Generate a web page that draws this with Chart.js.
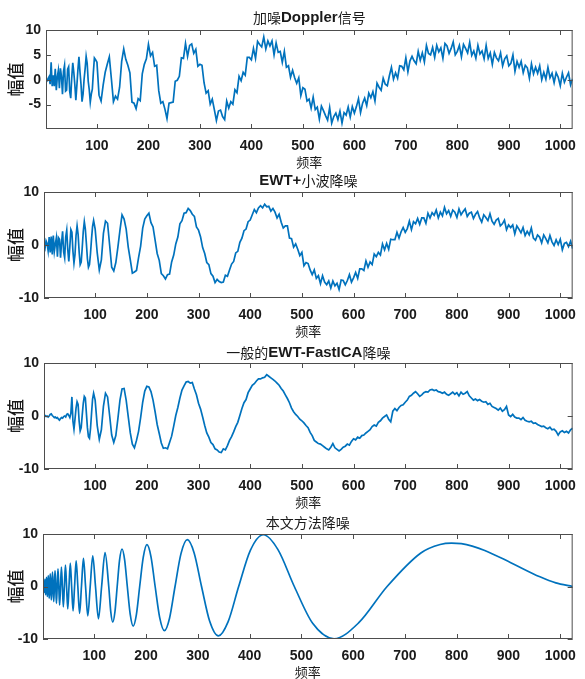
<!DOCTYPE html>
<html>
<head>
<meta charset="utf-8">
<script src="https://cdn.jsdelivr.net/npm/chart.js@4.4.1/dist/chart.umd.min.js"></script>
<style>
  html, body { margin: 0; padding: 0; background: #fff; }
  body { width: 585px; height: 679px; position: relative; overflow: hidden; }
  .panel { position: absolute; left: 0; width: 585px; }
  .panel canvas { display: block; }
</style>
</head>
<body>
<div class="panel" style="top:0px"><canvas id="c1" width="585" height="169"></canvas></div>
<div class="panel" style="top:162px"><canvas id="c2" width="585" height="176"></canvas></div>
<div class="panel" style="top:333px"><canvas id="c3" width="585" height="176"></canvas></div>
<div class="panel" style="top:504px"><canvas id="c4" width="585" height="175"></canvas></div>
<script>
// sample numbers (x) of the read-off values
const seq = (a, b, step) => { const out = []; for (let v = a; v <= b; v += step) out.push(v); return out; };
const HEAD_X = seq(1, 97, 2);     // 49 samples
const TAIL_X = seq(100, 1024, 4); // 232 samples

const X_TICKS = [100, 200, 300, 400, 500, 600, 700, 800, 900, 1000];
const Y_TICKS_FINE = [-5, 0, 5, 10];
const Y_TICKS = [-10, 0, 10];

const TITLES = [
  [['加噪', false], ['Doppler', true], ['信号', false]],
  [['EWT+', true], ['小波降噪', false]],
  [['一般的', false], ['EWT-FastICA', true], ['降噪', false]],
  [['本文方法降噪', false]]
];

// 加噪Doppler信号
const NOISY_HEAD = [0.0,-0.2,0.2,0.6,-0.9,3.5,-1.3,0.9,-1.3,2.2,
  -2.1,0.6,1.9,-1.7,2.3,0.7,-2.9,1.7,2.9,-2.3,
  -2.1,2.1,2.6,-2.3,-3.7,0.4,3.4,1.5,-1.0,-4.1,
  -1.1,2.0,4.6,1.6,-0.9,-4.4,-2.9,0.1,2.2,4.7,
  3.3,-0.3,-2.0,-4.5,-2.9,-1.9,1.5,4.4,4.1];
const NOISY_TAIL = [3.5,-3.1,-4.3,-1.1,1.5,3.1,4.6,0.2,-4.4,-3.3,
  -3.9,-1.5,3.7,6.2,4.1,2.9,1.4,-4.5,-4.7,-5.8,
  -3.8,-4.2,1.2,3.1,4.2,7.1,4.8,5.5,2.7,2.9,
  -2.2,-4.7,-4.4,-5.9,-7.8,-4.7,-4.6,-4.5,-0.3,-0.1,
  0.7,4.4,4.3,7.3,4.7,6.9,7.2,5.3,6.1,2.7,
  3.1,2.9,-0.6,-2.7,-2.2,-4.9,-3.9,-6.0,-8.2,-6.3,
  -6.1,-7.4,-8.0,-4.3,-5.7,-4.4,-4.9,-2.0,-2.6,0.7,
  -0.2,1.5,0.9,4.5,4.5,4.0,6.3,4.3,7.7,7.1,
  6.6,8.6,6.2,7.8,6.8,7.8,5.0,7.4,5.5,5.7,
  3.5,5.7,2.5,2.8,0.5,1.9,0.4,-0.7,0.4,-3.2,
  -1.6,-1.9,-4.3,-3.9,-5.7,-3.5,-6.0,-5.5,-7.9,-5.3,
  -6.2,-7.2,-8.1,-5.6,-8.7,-7.4,-6.7,-8.0,-6.3,-8.7,
  -6.6,-7.1,-5.5,-7.5,-5.4,-6.7,-5.4,-3.8,-6.6,-4.7,
  -3.7,-5.2,-2.7,-3.6,-2.4,-4.3,-0.7,-1.5,-2.1,0.3,
  -0.9,-1.2,0.8,2.5,0.1,1.4,0.3,2.8,2.7,2.0,
  4.4,1.6,3.8,4.7,3.8,3.2,5.7,3.9,5.4,3.6,
  6.9,5.3,5.0,6.5,4.5,6.9,5.6,6.4,4.3,7.3,
  6.8,5.3,6.3,7.6,5.0,5.7,6.9,4.6,7.1,6.3,
  5.4,7.5,4.9,5.8,4.3,6.9,5.2,5.8,4.2,6.9,
  4.3,5.4,3.1,5.5,4.4,3.8,5.4,2.8,4.2,4.8,
  2.8,3.3,5.0,1.7,3.7,2.5,3.7,1.4,2.9,2.4,
  0.3,3.2,1.2,2.5,1.3,2.8,0.0,1.5,0.1,2.5,
  0.4,1.3,-0.6,1.4,0.5,-1.2,1.3,-0.5,0.5,1.4,
  -1.0,0.2];

// EWT+小波降噪
const EWT_HEAD = [0.0,-0.6,0.8,0.3,-1.1,1.5,-1.4,1.6,-1.8,1.8,
  -1.2,0.2,1.4,-2.2,1.4,1.1,-2.4,0.5,2.6,-1.3,
  -2.4,1.5,2.8,-0.9,-3.1,-0.3,2.9,2.4,-1.2,-3.4,
  -1.8,1.8,3.6,2.0,-1.3,-3.7,-3.2,-0.5,2.6,4.4,
  3.0,0.3,-2.6,-4.2,-3.7,-1.6,1.2,3.5,4.6];
const EWT_TAIL = [3.0,-1.5,-4.7,-2.8,2.2,4.5,4.1,0.0,-4.2,-4.9,
  -3.3,-0.4,2.8,5.7,4.9,3.0,-0.4,-2.8,-5.3,-5.1,
  -4.8,-2.4,-0.2,3.2,4.9,5.5,6.0,4.2,3.4,0.9,
  -1.6,-2.9,-5.4,-5.8,-6.4,-5.6,-5.5,-3.2,-1.9,0.2,
  1.5,4.0,4.6,6.0,6.1,6.9,6.5,5.8,5.4,3.4,
  2.8,1.5,-0.5,-1.6,-3.3,-3.7,-5.4,-5.9,-7.1,-6.5,
  -6.9,-7.1,-7.0,-5.7,-5.9,-4.7,-3.6,-3.1,-1.5,-1.2,
  0.5,1.3,2.7,3.0,4.4,4.7,5.7,6.7,6.1,7.0,
  7.4,7.0,7.7,7.2,7.3,6.4,6.9,6.2,5.1,5.8,
  4.3,3.2,3.6,3.6,1.3,1.2,-0.4,0.2,-0.8,-2.0,
  -1.4,-3.9,-3.3,-3.5,-4.7,-5.6,-4.7,-6.3,-5.8,-7.3,
  -5.8,-7.0,-7.5,-6.8,-8.1,-6.8,-7.7,-7.2,-8.4,-6.6,
  -6.7,-7.5,-6.7,-5.6,-7.0,-6.2,-5.2,-6.3,-4.5,-4.5,
  -4.8,-3.0,-4.2,-3.2,-3.7,-1.7,-2.2,-1.4,-1.9,0.2,
  -0.9,0.3,-0.8,1.1,1.0,1.0,2.4,1.3,2.5,3.3,
  2.4,3.1,4.5,2.9,4.4,4.0,5.0,3.9,5.1,5.1,
  4.1,6.0,5.1,6.1,5.6,6.6,5.1,6.2,5.5,7.1,
  5.9,6.5,5.4,6.6,6.2,5.2,6.8,5.7,6.3,6.8,
  5.4,6.0,6.2,5.0,5.8,6.3,5.1,4.3,5.7,5.2,
  4.6,5.9,4.5,3.9,4.7,5.0,3.6,4.0,4.7,2.9,
  3.8,3.3,3.8,2.1,3.6,3.0,2.3,3.3,1.8,2.6,
  1.9,3.2,1.3,0.9,1.9,1.5,0.4,1.9,1.2,0.4,
  1.8,0.6,-0.1,1.0,0.1,1.1,-0.9,0.3,0.5,-0.3,
  0.7,-0.7];

// 一般的EWT-FastICA降噪
const ICA_HEAD = [0.0,0.1,-0.1,0.0,-0.2,0.0,0.3,0.4,0.1,-0.1,
  -0.3,-0.2,-0.4,-0.3,-0.6,-0.8,-0.5,-0.3,-0.4,-0.1,
  0.0,-0.2,0.3,0.4,0.1,-0.3,0.5,3.6,-1.0,-2.5,
  -0.6,1.5,2.7,2.2,-1.0,-2.8,-2.2,0.2,2.4,3.7,
  3.4,0.6,-2.2,-3.9,-4.2,-2.4,0.5,3.2,4.3];
const ICA_TAIL = [3.0,-1.8,-4.4,-2.6,1.8,4.3,3.6,0.1,-3.6,-5.0,
  -3.7,-0.5,3.0,5.1,5.2,3.0,-0.1,-3.2,-5.3,-6.0,
  -4.6,-2.9,-0.3,2.6,4.7,5.6,5.5,4.6,3.0,0.8,
  -1.6,-3.3,-5.1,-6.1,-6.0,-6.2,-5.0,-3.8,-1.9,0.1,
  1.6,3.4,4.9,5.7,6.4,6.5,6.2,6.3,5.1,4.0,
  2.4,1.3,-0.2,-1.8,-3.2,-4.0,-5.0,-5.4,-6.2,-6.4,
  -6.8,-6.9,-6.2,-6.4,-5.6,-4.6,-3.9,-3.0,-2.0,-1.2,
  0.1,1.4,2.5,3.1,4.4,5.1,5.8,6.1,6.6,7.0,
  7.0,7.2,7.3,7.8,7.5,7.2,6.9,6.6,
  6.2,5.8,5.2,4.7,4.0,3.3,2.5,1.5,0.8,0.3,
  -0.1,-0.6,-0.9,-1.3,-1.8,-2.2,-3.1,-3.7,-4.6,-4.9,
  -5.2,-5.3,-5.6,-5.9,-6.2,-6.4,-5.9,-5.2,-6.0,-6.3,
  -6.6,-6.3,-5.9,-5.7,-5.3,-5.5,-4.8,-4.3,-4.5,-4.0,
  -4.2,-3.7,-3.6,-3.2,-2.9,-2.6,-2.0,-1.7,-1.9,-1.2,
  -0.9,-0.4,-0.1,0.2,-0.6,-1.1,0.9,1.4,1.0,1.6,
  2.0,2.1,2.6,3.0,3.7,3.9,4.3,4.6,4.2,3.7,
  4.0,4.4,4.6,4.5,4.9,5.0,4.8,4.9,4.6,4.5,
  4.3,4.5,4.1,3.9,4.2,4.5,4.1,4.4,3.8,4.5,
  4.1,4.3,4.6,3.8,3.4,3.0,3.2,2.9,3.1,2.8,
  2.6,2.7,2.2,2.4,1.8,1.6,1.4,1.1,1.5,0.9,
  1.2,1.8,0.2,-0.1,0.3,-0.2,-0.4,-0.4,-0.7,-0.3,
  -0.8,-1.0,-1.1,-1.0,-1.4,-1.3,-1.6,-1.8,-2.0,-1.9,
  -2.2,-2.4,-2.1,-2.6,-2.5,-2.9,-3.6,-3.0,-2.8,-3.1,
  -2.9,-3.2,-2.6,-2.3];

// 本文方法降噪: extrema and zero crossings
const CLEAN_X = [1,1.25,1.9,2.56,3.24,3.94,4.66,5.39,6.14,6.92,
  7.71,8.53,9.37,10.24,11.13,12.05,12.99,13.96,14.97,16,
  17.07,18.17,19.3,20.48,21.7,22.95,24.25,25.6,26.99,28.44,
  29.95,31.51,33.13,34.82,36.57,38.4,40.31,42.29,44.37,46.55,
  48.82,51.2,53.7,56.32,59.08,61.98,65.04,68.27,71.68,75.29,
  79.13,83.2,87.53,92.16,97.1,102.4,108.09,114.22,120.83,128,
  131.8,135.79,139.9,144.29,148.8,153.6,158.6,163.84,169.4,175.16,
  181.3,187.73,194.6,201.79,209.5,217.6,226.3,235.52,245.4,256,
  267.4,279.63,292.9,307.2,322.8,339.78,358.4,378.88,401.5,426.67,
  454.8,486.4,522.2,563.2,610.5,665.6,730.8,768,790,809,
  830,854.2,904.5,960.8,991.4,1024];
const CLEAN_Y = [-0.37,0,0.86,0,-1.12,0,1.35,0,-1.54,0,
  1.73,0,-1.9,0,2.07,0,-2.24,0,2.4,0,
  -2.56,0,2.72,0,-2.88,0,3.04,0,-3.21,0,
  3.37,0,-3.54,0,3.71,0,-3.89,0,4.07,0,
  -4.26,0,4.46,0,-4.66,0,4.88,0,-5.1,0,
  5.34,0,-5.59,0,5.86,0,-6.15,0,6.45,0,
  -4.74,-6.78,-4.86,0,4.99,7.14,5.12,0,-5.25,-7.53,
  -5.4,0,5.55,7.96,5.7,0,-5.87,-8.42,-6.04,0,
  6.21,8.91,6.39,0,-6.57,-9.42,-6.75,0,6.9,9.86,
  7.03,0,-7.07,-9.95,-6.94,0,6.39,8.0,8.27,8.15,
  7.7,6.87,4.54,1.84,0.68,0];

const BLUE = '#0072BD';
const TEXT = '#1a1a1a';
const LATIN = "'Liberation Sans', Arial, sans-serif";
const CJK = "'Noto Sans CJK SC', 'Noto Sans', sans-serif";

const toPoints = (xs, ys) => xs.map((x, i) => ({ x: x, y: ys[i] }));

// box, inward ticks on all four sides, and the mixed-font title
const framePlugin = {
  id: 'frame',
  afterDraw(chart) {
    const { ctx, chartArea: a, scales: { x, y } } = chart;
    const o = chart.options.plugins.frame;
    ctx.save();
    ctx.strokeStyle = '#4d4d4d';
    ctx.lineWidth = 1;
    ctx.strokeRect(a.left + 0.5, a.top + 0.5, a.right - a.left - 1, a.bottom - a.top - 1);
    ctx.beginPath();
    x.ticks.forEach(t => {
      const px = Math.round(x.getPixelForValue(t.value)) + 0.5;
      ctx.moveTo(px, a.bottom); ctx.lineTo(px, a.bottom - 5);
      ctx.moveTo(px, a.top); ctx.lineTo(px, a.top + 5);
    });
    y.ticks.forEach(t => {
      const py = Math.round(y.getPixelForValue(t.value)) + 0.5;
      ctx.moveTo(a.left, py); ctx.lineTo(a.left + 5, py);
      ctx.moveTo(a.right, py); ctx.lineTo(a.right - 5, py);
    });
    ctx.stroke();

    const fontOf = bold => bold ? 'bold 15px ' + LATIN : '14px ' + CJK;
    let total = 0;
    o.title.forEach(([txt, bold]) => { ctx.font = fontOf(bold); total += ctx.measureText(txt).width; });
    let tx = (a.left + a.right) / 2 - total / 2;
    const ty = a.top - o.gap;
    ctx.fillStyle = TEXT;
    ctx.textBaseline = 'middle';
    ctx.textAlign = 'left';
    o.title.forEach(([txt, bold]) => {
      ctx.font = fontOf(bold);
      ctx.fillText(txt, tx, ty);
      tx += ctx.measureText(txt).width;
    });
    ctx.restore();
  }
};

const PANELS = [
  { id: 'c1', points: toPoints(HEAD_X.concat(TAIL_X), NOISY_HEAD.concat(NOISY_TAIL)), yMin: -9.9, yTicks: Y_TICKS_FINE, left: 46, right: 579, title: TITLES[0], gap: 12, smooth: false },
  { id: 'c2', points: toPoints(HEAD_X.concat(TAIL_X), EWT_HEAD.concat(EWT_TAIL)), yMin: -10, yTicks: Y_TICKS, left: 44, right: 578, title: TITLES[1], gap: 11, smooth: false },
  { id: 'c3', points: toPoints(HEAD_X.concat(TAIL_X), ICA_HEAD.concat(ICA_TAIL)), yMin: -10, yTicks: Y_TICKS, left: 44, right: 577, title: TITLES[2], gap: 10, smooth: false },
  { id: 'c4', points: toPoints(CLEAN_X, CLEAN_Y), yMin: -10, yTicks: Y_TICKS, left: 43, right: 577, title: TITLES[3], gap: 11, smooth: true }
];

PANELS.forEach(p => {
  new Chart(document.getElementById(p.id), {
    type: 'line',
    data: {
      datasets: [{
        data: p.points,
        borderColor: BLUE,
        borderWidth: 1.7,
        pointRadius: 0,
        fill: false,
        tension: 0,
        cubicInterpolationMode: p.smooth ? 'monotone' : 'default'
      }]
    },
    options: {
      responsive: false,
      animation: false,
      devicePixelRatio: 1,
      layout: { padding: { top: 30, left: 0, right: 585 - p.right, bottom: 0 } },
      plugins: {
        legend: { display: false },
        tooltip: { enabled: false },
        title: { display: false },
        frame: { title: p.title, gap: p.gap }
      },
      scales: {
        x: {
          type: 'linear',
          min: 1,
          max: 1024,
          afterBuildTicks: s => { s.ticks = X_TICKS.map(v => ({ value: v })); },
          afterFit: s => { s.height = 40; },
          grid: { display: false, drawTicks: false },
          border: { display: false },
          ticks: { padding: 9, autoSkip: false, maxRotation: 0, color: TEXT,
                   callback: v => String(v),
                   font: { family: LATIN, size: 14, weight: 'bold', lineHeight: 1.2 } },
          title: { display: true, text: '频率', color: TEXT, padding: { top: 0, bottom: 0 },
                   font: { family: CJK, size: 13, lineHeight: 1 } }
        },
        y: {
          type: 'linear',
          min: p.yMin,
          max: 10,
          afterBuildTicks: s => { s.ticks = p.yTicks.map(v => ({ value: v })); },
          afterFit: s => { s.width = p.left; },
          grid: { display: false, drawTicks: false },
          border: { display: false },
          ticks: { padding: 5, color: TEXT,
                   callback: v => String(v),
                   font: { family: LATIN, size: 14, weight: 'bold' } },
          title: { display: true, text: '幅值', color: TEXT, padding: { top: 7, bottom: 0 },
                   font: { family: CJK, size: 17, weight: '500', lineHeight: 1 } }
        }
      }
    },
    plugins: [framePlugin]
  });
});
</script>
</body>
</html>
